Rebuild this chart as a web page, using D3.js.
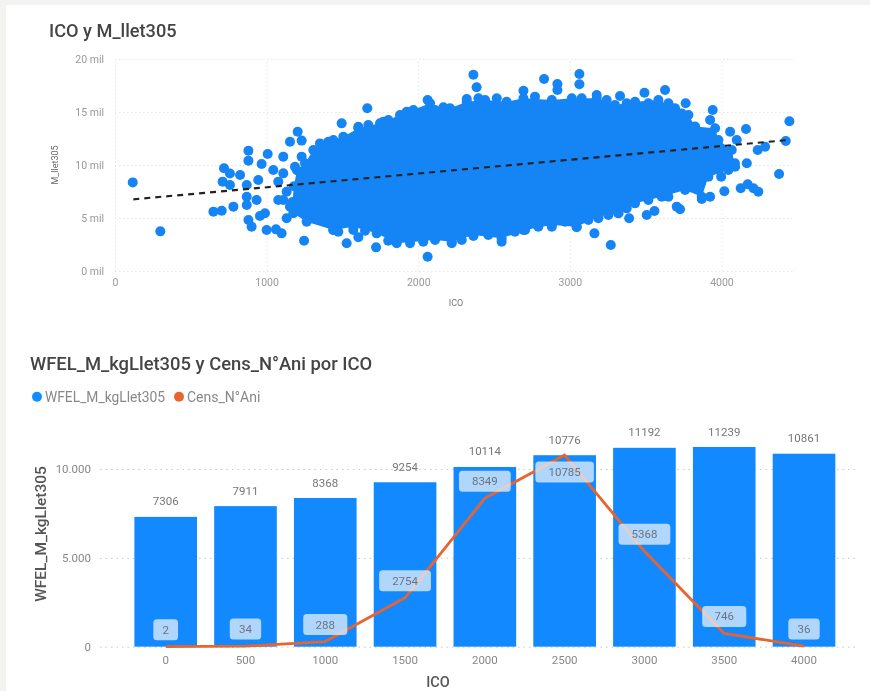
<!DOCTYPE html>
<html><head><meta charset="utf-8">
<style>
html,body{margin:0;padding:0;background:#f3f3f1;}
svg{display:block;filter:blur(0.7px);}
text{font-family:Roboto,"Open Sans",sans-serif;}
</style>
<script src="https://cdn.jsdelivr.net/npm/d3@7/dist/d3.min.js"></script>
</head><body><div id="c"></div>
<script>
// ---- scatter data (ICO, M_llet305 in thousands)
const outlierIco = [117,299,719,710,758,825,649,704,781,758,880,880,1007,967,1044,945,869,869,934,869,989,956,880,901,1000,1062,1099,1247,1110,1154,1205,1231,1132,1077,1664,1495,1528,1605,1722,2062,2062,1924,1440,1649,2364,2385,2320,2694,2830,2918,2918,3063,3063,3177,3331,3492,3628,3764,3942,3925,4057,4162,4448,4424,4288,4239,4101,4167,4089,4380,4019,4127,4173,4211,4243,3870,3925,3727,3705,3558,3507,3391,3270,3162,3045,2881,2694,2550,2221,2364,3188,3320,3998,
  1110,1077,1132,1110,1154,1187,1231,1473,1572,1352,1605,1770,1924,1440,1671,1803,1968,2166,2397,2518,2770,3078,3243,3375,3518,3650,3738,1802,1946,2033,2287,2462,2638,2792,2969,3122,3254,3375,3518,3650];
const outlierMil = [8.36,3.74,9.69,8.43,9.2,9.06,5.6,5.69,6.07,8.11,11.35,10.41,11.04,10.09,9.53,8.58,8.11,7.01,6.7,6.23,5.44,5.19,4.81,4.18,3.87,3.93,3.55,2.86,10.79,12.2,13.14,12.3,4.97,6.7,15.35,13.93,2.61,3.18,2.23,1.35,16.13,15.03,3.87,3.8,18.52,17.33,16.23,17.0,18.11,17.64,17.08,18.58,17.61,16.6,16.51,16.82,17.08,15.82,15.19,14.25,13.14,13.4,14.12,12.26,11.73,11.42,12.36,10.16,10.16,9.15,7.52,7.8,8.18,7.8,7.48,6.79,7.01,5.82,6.07,5.66,5.28,4.97,2.45,3.55,4.12,4.18,3.87,2.77,2.61,3.3,4.97,5.44,8.9,
  9.21,8.43,7.48,6.7,6.07,9.84,10.79,3.71,3.87,12.04,13.6,14.09,14.87,12.36,13.77,14.25,15.19,15.44,16.29,16.29,16.45,16.29,16.13,15.82,15.82,15.82,14.87,2.86,2.61,2.77,2.92,3.4,3.71,4.18,4.65,4.81,5.28,5.91,6.7,7.01];
// outline of the solid cloud of overlapping points
const cloudIco = [1253,1308,1407,1506,1605,1748,1880,2078,2111,2210,2320,2441,2583,2694,2881,3013,3177,3298,3430,3584,3694,3782,3826,3958,3980,4068,4090,4046,3914,3870,3760,3606,3430,3320,3188,3045,2881,2705,2550,2364,2221,2111,1858,1726,1572,1440,1264,1176,1170,1180,1200];
const cloudMil = [10.16,11.42,12.2,12.67,13.46,13.93,14.72,15.82,15.19,15.35,15.97,16.13,15.97,16.29,16.13,16.29,16.29,15.66,15.97,16.13,15.35,14.72,13.63,13.46,12.36,11.42,9.84,9.53,8.9,7.01,7.64,7.01,6.38,5.44,5.13,4.18,4.34,3.87,3.08,3.4,2.77,2.92,2.61,3.55,4.18,3.87,4.65,5.44,6.5,8,9.5];
const trendIco = [121,4440];
const trendMil = [6.76,12.36];
const scatterXTicks = [0,1000,2000,3000,4000];
const scatterYTicks = [0,5,10,15,20];
// ---- combo chart data
const icoCats = ["0","500","1000","1500","2000","2500","3000","3500","4000"];
const wfel = [7306,7911,8368,9254,10114,10776,11192,11239,10861];
const cens = [2,34,288,2754,8349,10785,5368,746,36];
const censLabelBelow = ["10785"];
const comboYTicks = [0,5000,10000];

const W=870,H=691;
const svg=d3.select("#c").append("svg").attr("width",W).attr("height",H);
svg.append("rect").attr("x",6).attr("y",5).attr("width",W-6).attr("height",H-5).attr("fill","#fff");

// ===== scatter =====
const blue="#1585F5";
const sx=d3.scaleLinear().domain([0,4485]).range([115,795]);
const sy=d3.scaleLinear().domain([0,20]).range([271,59]);
const g1=svg.append("g");
const gridC="#e6e6e6";
g1.append("g").attr("transform","translate(0,271)")
  .call(d3.axisBottom(sx).tickValues(scatterXTicks).tickSize(-212).tickFormat(d=>d))
  .call(a=>{a.select(".domain").remove();a.selectAll("line").attr("stroke",gridC).attr("stroke-dasharray","1.5,2.5");
    a.selectAll("text").attr("fill","#999").attr("font-size",10.5).attr("y",8).attr("dy",".71em");});
g1.append("g").attr("transform","translate(115,0)")
  .call(d3.axisLeft(sy).tickValues(scatterYTicks).tickSize(-680).tickFormat(d=>d+" mil"))
  .call(a=>{a.select(".domain").remove();a.selectAll("line").attr("stroke",gridC).attr("stroke-dasharray","1.5,2.5");
    a.selectAll("text").attr("fill","#999").attr("font-size",10.5).attr("x",-11).attr("dy",".32em");});
const cloud=cloudIco.map((d,i)=>[d,cloudMil[i]]);
g1.append("path").attr("d",d3.line().x(d=>sx(d[0])).y(d=>sy(d[1])).curve(d3.curveLinearClosed)(cloud)).attr("fill",blue);
const dots=cloud.concat(outlierIco.map((d,i)=>[d,outlierMil[i]]));
g1.selectAll("circle.p").data(dots).join("circle").attr("class","p")
  .attr("cx",d=>sx(d[0])).attr("cy",d=>sy(d[1])).attr("r",5).attr("fill",blue);
g1.append("line").attr("x1",sx(trendIco[0])).attr("y1",sy(trendMil[0])).attr("x2",sx(trendIco[1])).attr("y2",sy(trendMil[1]))
  .attr("stroke","#222").attr("stroke-width",2.1).attr("stroke-dasharray","6,5");
svg.append("text").attr("x",49).attr("y",37).attr("fill","#444").attr("font-size",18.2).attr("font-weight",500).text("ICO y M_llet305");
svg.append("text").attr("transform","translate(58,165) rotate(-90)").attr("text-anchor","middle").attr("fill","#666").attr("font-size",9).text("M_llet305");
svg.append("text").attr("x",456).attr("y",306).attr("text-anchor","middle").attr("fill","#777").attr("font-size",9).text("ICO");

// ===== combo =====
const bx=d3.scaleBand().domain(icoCats).range([125.8,843.9]).paddingInner(0.215).paddingOuter(0.1075);
const by=d3.scaleLinear().domain([0,10000]).range([646.7,469]);
const g2=svg.append("g");
g2.append("g").attr("transform","translate(100,0)")
  .call(d3.axisLeft(by).tickValues(comboYTicks).tickSize(-758).tickFormat(d=>d3.format(",")(d).replace(",",".")))
  .call(a=>{a.select(".domain").remove();a.selectAll("line").attr("stroke","#c8c8c8").attr("stroke-dasharray","1.5,4");
    a.selectAll("text").attr("fill","#888").attr("font-size",11.5).attr("x",-9).attr("dy",".32em");});
g2.selectAll("rect.b").data(wfel).join("rect").attr("class","b")
  .attr("x",(d,i)=>bx(icoCats[i])).attr("width",bx.bandwidth())
  .attr("y",d=>by(d)).attr("height",d=>by(0)-by(d)).attr("fill","#1289FF");
g2.selectAll("text.bl").data(wfel).join("text").attr("class","bl")
  .attr("x",(d,i)=>bx(icoCats[i])+bx.bandwidth()/2).attr("y",d=>by(d)-15.5).attr("dy",".35em")
  .attr("text-anchor","middle").attr("fill","#777").attr("font-size",11.5).text(d=>d);
g2.append("g").attr("transform","translate(0,646.7)")
  .call(d3.axisBottom(bx).tickSize(0))
  .call(a=>{a.select(".domain").remove();a.selectAll("text").attr("fill","#888").attr("font-size",11.5).attr("y",9).attr("dy",".71em");});
const lineC="#E8642E";
g2.append("path").attr("fill","none").attr("stroke",lineC).attr("stroke-width",2.8).attr("stroke-linejoin","round")
  .attr("d",d3.line().x((d,i)=>bx(icoCats[i])+bx.bandwidth()/2).y(d=>by(d))(cens));
const lg=g2.selectAll("g.lb").data(cens).join("g").attr("class","lb")
  .attr("transform",(d,i)=>`translate(${bx(icoCats[i])+bx.bandwidth()/2},${by(d)+(censLabelBelow.includes(String(d))?17:-17)})`);
const wFor=d=>String(d).length*6.7+(String(d).length<3?18:String(d).length==3?24:25);
lg.append("rect").attr("x",d=>-wFor(d)/2).attr("y",-10.5).attr("width",wFor).attr("height",21).attr("rx",3.5)
  .attr("fill","rgba(230,240,250,0.75)");
lg.append("text").attr("text-anchor","middle").attr("dy",".35em").attr("fill","#6a7480").attr("font-size",11.5).text(d=>d);

svg.append("text").attr("x",30).attr("y",370).attr("fill","#444").attr("font-size",18.4).attr("font-weight",500).text("WFEL_M_kgLlet305 y Cens_N°Ani por ICO");
svg.append("circle").attr("cx",37).attr("cy",396.7).attr("r",5).attr("fill","#118DFF");
svg.append("text").attr("x",45).attr("y",401.5).attr("fill","#888").attr("font-size",13.8).text("WFEL_M_kgLlet305");
svg.append("circle").attr("cx",179).attr("cy",396.7).attr("r",5).attr("fill",lineC);
svg.append("text").attr("x",187).attr("y",401.5).attr("fill","#888").attr("font-size",14).text("Cens_N°Ani");
svg.append("text").attr("transform","translate(46,534) rotate(-90)").attr("text-anchor","middle").attr("fill","#555").attr("font-size",15.5).attr("font-weight",500).text("WFEL_M_kgLlet305");
svg.append("text").attr("x",438).attr("y",686.5).attr("text-anchor","middle").attr("fill","#555").attr("font-size",14.5).attr("font-weight",500).text("ICO");
</script></body></html>
